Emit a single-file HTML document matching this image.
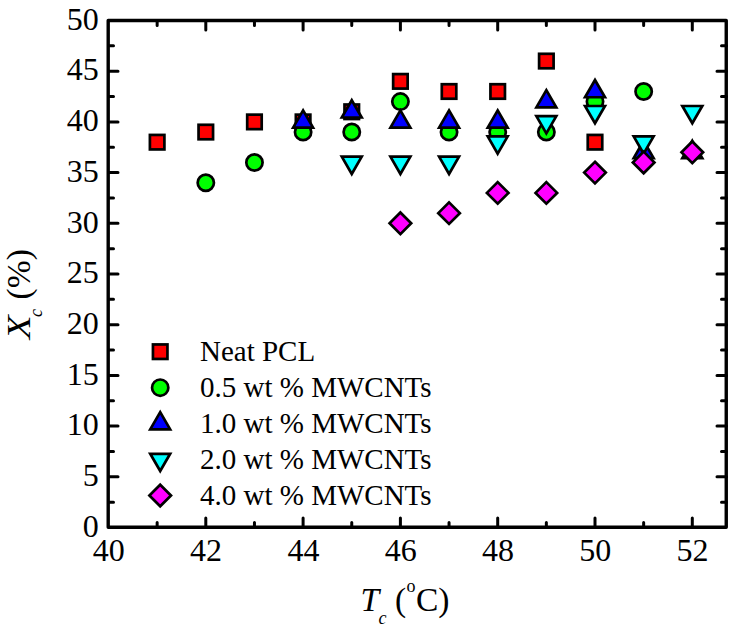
<!DOCTYPE html>
<html><head><meta charset="utf-8"><style>
html,body{margin:0;padding:0;background:#fff;}
svg{display:block;}
text{font-family:"Liberation Serif",serif;fill:#000;}
</style></head><body>
<svg width="735" height="629" viewBox="0 0 735 629">
<rect x="0" y="0" width="735" height="629" fill="#fff"/>
<g stroke="#000" stroke-width="2.7" stroke-linejoin="miter" stroke-miterlimit="10">
<rect x="149.90" y="134.93" width="14.50" height="14.50" fill="#ff0000"/><rect x="198.55" y="124.79" width="14.50" height="14.50" fill="#ff0000"/><rect x="247.20" y="114.65" width="14.50" height="14.50" fill="#ff0000"/><rect x="295.85" y="114.65" width="14.50" height="14.50" fill="#ff0000"/><rect x="344.50" y="104.51" width="14.50" height="14.50" fill="#ff0000"/><rect x="393.15" y="74.09" width="14.50" height="14.50" fill="#ff0000"/><rect x="441.80" y="84.23" width="14.50" height="14.50" fill="#ff0000"/><rect x="490.45" y="84.23" width="14.50" height="14.50" fill="#ff0000"/><rect x="539.10" y="53.81" width="14.50" height="14.50" fill="#ff0000"/><rect x="587.75" y="134.93" width="14.50" height="14.50" fill="#ff0000"/><circle cx="205.80" cy="182.74" r="8.15" fill="#00ff00"/><circle cx="254.45" cy="162.46" r="8.15" fill="#00ff00"/><circle cx="303.10" cy="132.04" r="8.15" fill="#00ff00"/><circle cx="351.75" cy="132.04" r="8.15" fill="#00ff00"/><circle cx="400.40" cy="101.62" r="8.15" fill="#00ff00"/><circle cx="449.05" cy="132.04" r="8.15" fill="#00ff00"/><circle cx="497.70" cy="132.04" r="8.15" fill="#00ff00"/><circle cx="546.35" cy="132.04" r="8.15" fill="#00ff00"/><circle cx="595.00" cy="101.62" r="8.15" fill="#00ff00"/><circle cx="643.65" cy="91.48" r="8.15" fill="#00ff00"/><path d="M303.10,110.40L313.06,127.65L293.14,127.65Z" fill="#0000ff"/><path d="M351.75,100.26L361.71,117.51L341.79,117.51Z" fill="#0000ff"/><path d="M400.40,110.40L410.36,127.65L390.44,127.65Z" fill="#0000ff"/><path d="M449.05,110.40L459.01,127.65L439.09,127.65Z" fill="#0000ff"/><path d="M497.70,110.40L507.66,127.65L487.74,127.65Z" fill="#0000ff"/><path d="M546.35,90.12L556.31,107.37L536.39,107.37Z" fill="#0000ff"/><path d="M595.00,79.98L604.96,97.23L585.04,97.23Z" fill="#0000ff"/><path d="M643.65,140.82L653.61,158.07L633.69,158.07Z" fill="#0000ff"/><path d="M692.30,140.82L702.26,158.07L682.34,158.07Z" fill="#0000ff"/><path d="M351.75,173.96L361.71,156.71L341.79,156.71Z" fill="#00ffff"/><path d="M400.40,173.96L410.36,156.71L390.44,156.71Z" fill="#00ffff"/><path d="M449.05,173.96L459.01,156.71L439.09,156.71Z" fill="#00ffff"/><path d="M497.70,153.68L507.66,136.43L487.74,136.43Z" fill="#00ffff"/><path d="M546.35,133.40L556.31,116.15L536.39,116.15Z" fill="#00ffff"/><path d="M595.00,123.26L604.96,106.01L585.04,106.01Z" fill="#00ffff"/><path d="M643.65,153.68L653.61,136.43L633.69,136.43Z" fill="#00ffff"/><path d="M692.30,123.26L702.26,106.01L682.34,106.01Z" fill="#00ffff"/><path d="M400.40,212.50L411.20,223.30L400.40,234.10L389.60,223.30Z" fill="#ff00ff"/><path d="M449.05,202.36L459.85,213.16L449.05,223.96L438.25,213.16Z" fill="#ff00ff"/><path d="M497.70,182.08L508.50,192.88L497.70,203.68L486.90,192.88Z" fill="#ff00ff"/><path d="M546.35,182.08L557.15,192.88L546.35,203.68L535.55,192.88Z" fill="#ff00ff"/><path d="M595.00,161.80L605.80,172.60L595.00,183.40L584.20,172.60Z" fill="#ff00ff"/><path d="M643.65,151.66L654.45,162.46L643.65,173.26L632.85,162.46Z" fill="#ff00ff"/><path d="M692.30,141.52L703.10,152.32L692.30,163.12L681.50,152.32Z" fill="#ff00ff"/>
<rect x="152.95" y="344.45" width="14.50" height="14.50" fill="#ff0000"/><circle cx="160.20" cy="387.65" r="8.15" fill="#00ff00"/><path d="M160.20,412.10L170.16,429.35L150.24,429.35Z" fill="#0000ff"/><path d="M160.20,471.05L170.16,453.80L150.24,453.80Z" fill="#00ffff"/><path d="M160.20,484.70L171.00,495.50L160.20,506.30L149.40,495.50Z" fill="#ff00ff"/>
</g>
<path d="M157.15,527.50v-5.0M157.15,20.50v5.0M205.80,527.50v-9.5M205.80,20.50v9.5M254.45,527.50v-5.0M254.45,20.50v5.0M303.10,527.50v-9.5M303.10,20.50v9.5M351.75,527.50v-5.0M351.75,20.50v5.0M400.40,527.50v-9.5M400.40,20.50v9.5M449.05,527.50v-5.0M449.05,20.50v5.0M497.70,527.50v-9.5M497.70,20.50v9.5M546.35,527.50v-5.0M546.35,20.50v5.0M595.00,527.50v-9.5M595.00,20.50v9.5M643.65,527.50v-5.0M643.65,20.50v5.0M692.30,527.50v-9.5M692.30,20.50v9.5M108.50,502.15h5.0M726.50,502.15h-5.0M108.50,476.80h9.5M726.50,476.80h-9.5M108.50,451.45h5.0M726.50,451.45h-5.0M108.50,426.10h9.5M726.50,426.10h-9.5M108.50,400.75h5.0M726.50,400.75h-5.0M108.50,375.40h9.5M726.50,375.40h-9.5M108.50,350.05h5.0M726.50,350.05h-5.0M108.50,324.70h9.5M726.50,324.70h-9.5M108.50,299.35h5.0M726.50,299.35h-5.0M108.50,274.00h9.5M726.50,274.00h-9.5M108.50,248.65h5.0M726.50,248.65h-5.0M108.50,223.30h9.5M726.50,223.30h-9.5M108.50,197.95h5.0M726.50,197.95h-5.0M108.50,172.60h9.5M726.50,172.60h-9.5M108.50,147.25h5.0M726.50,147.25h-5.0M108.50,121.90h9.5M726.50,121.90h-9.5M108.50,96.55h5.0M726.50,96.55h-5.0M108.50,71.20h9.5M726.50,71.20h-9.5M108.50,45.85h5.0M726.50,45.85h-5.0" stroke="#000" stroke-width="3" stroke-linecap="round" fill="none"/>
<rect x="108.2" y="20.5" width="618.05" height="506.80" fill="none" stroke="#000" stroke-width="3.4" stroke-linejoin="round"/>
<g font-size="32">
<text x="108.80" y="561" text-anchor="middle">40</text><text x="206.10" y="561" text-anchor="middle">42</text><text x="303.40" y="561" text-anchor="middle">44</text><text x="400.70" y="561" text-anchor="middle">46</text><text x="498.00" y="561" text-anchor="middle">48</text><text x="595.30" y="561" text-anchor="middle">50</text><text x="692.60" y="561" text-anchor="middle">52</text>
<text x="98.8" y="536.70" text-anchor="end">0</text><text x="98.8" y="486.00" text-anchor="end">5</text><text x="98.8" y="435.30" text-anchor="end">10</text><text x="98.8" y="384.60" text-anchor="end">15</text><text x="98.8" y="333.90" text-anchor="end">20</text><text x="98.8" y="283.20" text-anchor="end">25</text><text x="98.8" y="232.50" text-anchor="end">30</text><text x="98.8" y="181.80" text-anchor="end">35</text><text x="98.8" y="131.10" text-anchor="end">40</text><text x="98.8" y="80.40" text-anchor="end">45</text><text x="98.8" y="29.70" text-anchor="end">50</text>
</g>
<g font-size="29">
<text x="200.0" y="360.8">Neat PCL</text><text x="200.0" y="396.8">0.5 wt % MWCNTs</text><text x="200.0" y="432.7">1.0 wt % MWCNTs</text><text x="200.0" y="468.7">2.0 wt % MWCNTs</text><text x="200.0" y="504.6">4.0 wt % MWCNTs</text>
</g>
<g font-size="33.5">
<text x="360.5" y="610.5" font-style="italic">T</text>
<text x="378.6" y="624" font-style="italic" font-size="18">c</text>
<text x="395.1" y="610.5">(</text>
<text x="406.5" y="592" font-size="18">o</text>
<text x="416.0" y="610.5">C)</text>
<g transform="translate(29.5,339.3) rotate(-90)">
<text x="0" y="0" font-style="italic" transform="scale(1.17,1)">X</text>
<text x="22.3" y="12.7" font-style="italic" font-size="18">c</text>
<text x="39.9" y="0">(%)</text>
</g>
</g>
</svg>
</body></html>
